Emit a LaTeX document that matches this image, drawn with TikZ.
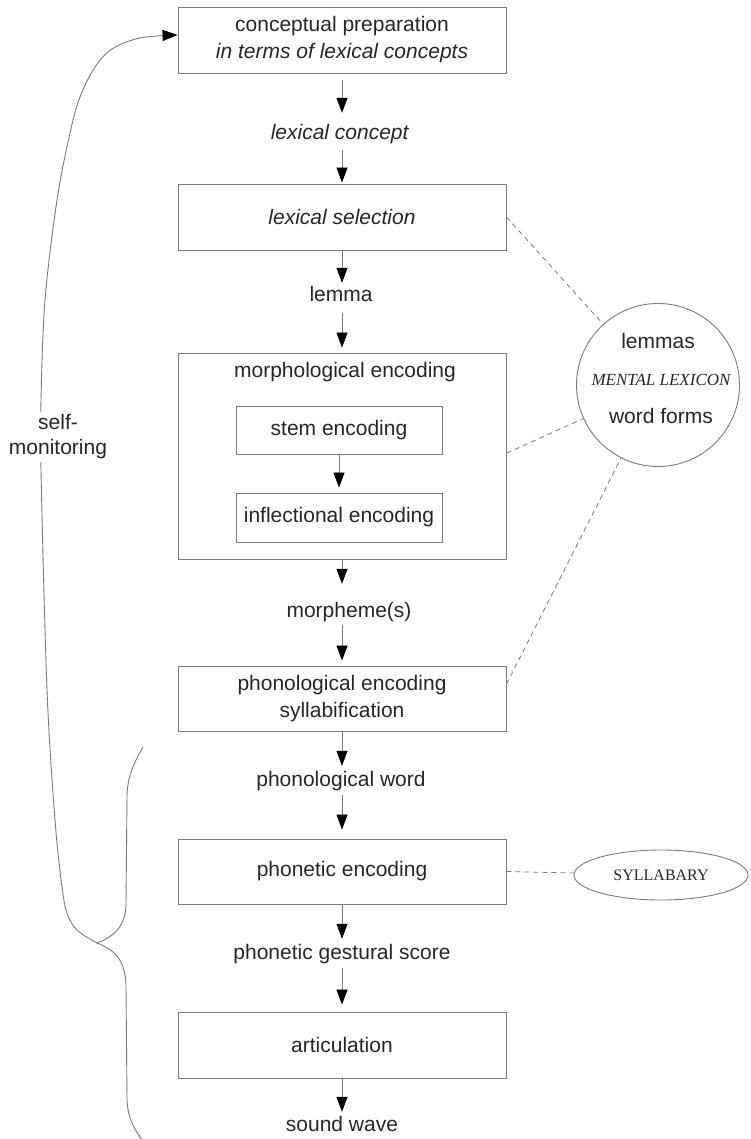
\documentclass[tikz,border=0pt]{standalone}
\usepackage{fontspec}
\setmainfont{Liberation Sans}
\newfontfamily\serifface{Liberation Serif}
\usetikzlibrary{arrows.meta,shapes.geometric}
\definecolor{ink}{HTML}{262626}
\definecolor{edge}{HTML}{7A7A7A}
\begin{document}
\begin{tikzpicture}[x=1pt,y=-1pt,
  every node/.style={text=ink, font=\fontsize{21}{27}\selectfont},
  stagebox/.style={draw=edge, line width=0.9pt, rectangle, minimum width=328pt,
    minimum height=66pt, inner sep=0pt, align=center},
  subbox/.style={stagebox, minimum width=206pt, minimum height=48pt},
  lbltext/.style={inner sep=0pt, text height=15pt, text depth=4pt},
  headtip/.style={-{Triangle[length=15pt,width=11pt,color=black]}},
  flowarrow/.style={draw=edge, line width=0.8pt, headtip, shorten >=5pt},
  dashlink/.style={draw=edge, line width=0.8pt, dash pattern=on 5pt off 4pt},
  monline/.style={draw=edge, line width=0.9pt},
]
\useasboundingbox (0,0) rectangle (750,1139);

% processing stages and their outputs
\node[stagebox] (prep) at (342,40) {conceptual preparation\\\textit{in terms of lexical concepts}};
\node[lbltext] (lc) at (340,134) {\textit{lexical concept}};
\node[stagebox] (sel) at (342,217) {\textit{lexical selection}};
\node[lbltext] (lemma) at (341,296) {lemma};
\node[stagebox, minimum height=206pt] (morph) at (342,456) {};
\node[lbltext] (morphtitle) at (345,372) {morphological encoding};
\node[subbox] (stem) at (339,430) {stem encoding};
\node[subbox, minimum height=49pt] (infl) at (339,517.5) {inflectional encoding};
\node[lbltext] (morphemes) at (349,612) {morpheme(s)};
\node[stagebox, minimum height=65pt] (phon) at (342,698.5) {phonological encoding\\syllabification};
\node[lbltext] (pw) at (341,781) {phonological word};
\node[stagebox, minimum height=65pt] (phonetic) at (342,871.5) {phonetic encoding};
\node[lbltext] (pgs) at (342,954) {phonetic gestural score};
\node[stagebox] (art) at (342,1045) {articulation};
\node[lbltext] (sw) at (342,1126) {sound wave};

% stores
\node[circle, draw=edge, line width=0.9pt, minimum size=163pt, inner sep=0pt] (lex) at (658,385) {};
\node[lbltext] (lemmas) at (658,343) {lemmas};
\node[inner sep=0pt, font=\serifface\itshape\fontsize{17}{20}\selectfont] (mlex) at (661,380) {MENTAL LEXICON};
\node[lbltext] (wf) at (661,418) {word forms};
\node[ellipse, draw=edge, line width=0.9pt, minimum width=174pt, minimum height=50pt,
  inner sep=0pt, font=\serifface\fontsize{16}{18}\selectfont] (syl) at (661,875) {SYLLABARY};

% main flow
\draw[flowarrow, shorten <=7pt, shorten >=11.5pt] (prep.south) -- (prep.south |- lc.north);
\draw[flowarrow, shorten <=6.5pt, shorten >=1pt] (sel.north |- lc.south) -- (sel.north);
\draw[flowarrow, shorten >=3.5pt] (sel.south) -- (sel.south |- lemma.north);
\draw[flowarrow, shorten <=7.5pt, shorten >=5pt] (morph.north |- lemma.south) -- (morph.north);
\draw[flowarrow] (stem.south) -- (infl.north);
\draw[flowarrow, shorten >=18.5pt] (morph.south) -- (morph.south |- morphemes.north);
\draw[flowarrow, shorten <=3.5pt] (phon.north |- morphemes.south) -- (phon.north);
\draw[flowarrow, shorten >=5.5pt] (phon.south) -- (phon.south |- pw.north);
\draw[flowarrow, shorten <=4.5pt, shorten >=9pt] (phonetic.north |- pw.south) -- (phonetic.north);
\draw[flowarrow, shorten >=5.5pt] (phonetic.south) -- (phonetic.south |- pgs.north);
\draw[flowarrow, shorten <=4.5pt, shorten >=7pt] (art.north |- pgs.south) -- (art.north);
\draw[flowarrow, shorten >=4.5pt] (art.south) -- (art.south |- sw.north);

% links to the stores
\draw[dashlink] (sel.east) -- (lex);
\draw[dashlink] (morph.1.5) -- (lex);
\draw[dashlink] (phon.5.4) -- (lex);
\draw[dashlink] (phonetic.east) -- (syl);

% brace over the articulatory stages
\coordinate (btip) at (97,943);
\draw[monline] (143,747) .. controls (133,765) and (128,775) .. (127,795)
  -- (126,905) .. controls (125,930) and (110,938) .. (btip)
  .. controls (115,950) and (125,960) .. (126,985)
  -- (127,1100) .. controls (128,1120) and (135,1130) .. (143,1141);

% self-monitoring loop
\coordinate (monend) at ([yshift=5pt]prep.west);
\draw[monline, headtip]
  plot[smooth, tension=0.55] coordinates {(btip) (77,930) (67,913) (62,887) (55,820)
  (47,690) (41,470) (41,400) (45,300) (57,200) (70,133) (80,97) (95,67) (112,49)
  (140,38) (monend)};
\node[fill=white, inner sep=3pt, align=center, font=\fontsize{21}{25}\selectfont]
  (selfmon) at (58,437) {self-\\monitoring};
\end{tikzpicture}
\end{document}
